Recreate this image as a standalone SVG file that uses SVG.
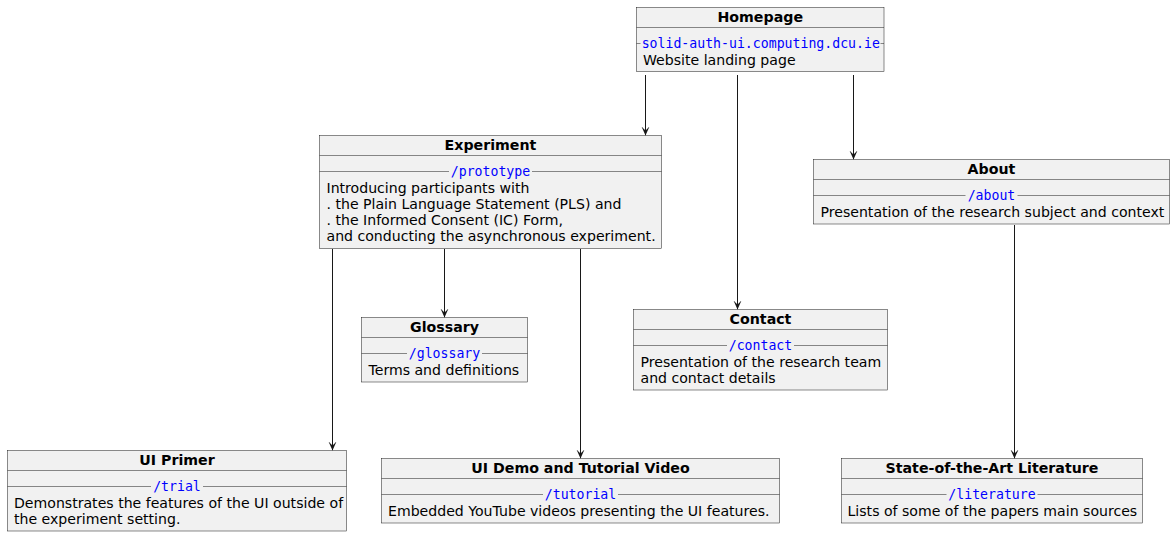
<svg xmlns="http://www.w3.org/2000/svg" width="1175" height="537" viewBox="0 0 1175 537">
<style>
.box{fill:#F1F1F1;stroke:#181818;stroke-width:0.5}
.sep{stroke:#181818;stroke-width:0.5;fill:none}
.title{font-family:"DejaVu Sans",sans-serif;font-weight:bold;font-size:14.2px;text-anchor:middle;fill:#000}
.url{font-family:"DejaVu Sans Mono",monospace;font-size:13.2px;text-anchor:middle;fill:#0000FF}
.body{font-family:"DejaVu Sans",sans-serif;font-size:14.1px;fill:#000}
.edge{stroke:#181818;stroke-width:1;fill:none;marker-end:url(#arr)}
</style>
<defs>
<marker id="arr" markerUnits="userSpaceOnUse" markerWidth="10" markerHeight="11" viewBox="0 0 10 10" refX="9" refY="5" orient="auto">
<path d="M0,1 L9,5 L0,9 L4,5 Z" fill="#181818"/>
</marker>
</defs>
<rect width="1175" height="537" fill="#FFFFFF"/>

<g id="connectors">
<line class="edge" x1="645.5" y1="75" x2="645.5" y2="135.5"/>
<line class="edge" x1="737.5" y1="75" x2="737.5" y2="309.5"/>
<line class="edge" x1="853.5" y1="75" x2="853.5" y2="159.5"/>
<line class="edge" x1="332.5" y1="249" x2="332.5" y2="450.5"/>
<line class="edge" x1="444.5" y1="249" x2="444.5" y2="317.5"/>
<line class="edge" x1="580.5" y1="249" x2="580.5" y2="458.5"/>
<line class="edge" x1="1014.5" y1="225" x2="1014.5" y2="458.5"/>
</g>

<g id="homepage">
<rect class="box" x="636.5" y="7.5" width="247.5" height="64"/>
<text class="title" x="760.25" y="21.5">Homepage</text>
<line class="sep" x1="636.5" y1="27.5" x2="884" y2="27.5"/>
<line class="sep" x1="636.5" y1="43.5" x2="640.5" y2="43.5"/>
<line class="sep" x1="880.5" y1="43.5" x2="884" y2="43.5"/>
<text class="url" x="760.75" y="47.5">solid-auth-ui.computing.dcu.ie</text>
<text class="body" x="643" y="64.5">Website landing page</text>
</g>

<g id="experiment">
<rect class="box" x="319.5" y="135.5" width="342" height="113"/>
<text class="title" x="490.5" y="150">Experiment</text>
<line class="sep" x1="319.5" y1="155.5" x2="661.5" y2="155.5"/>
<line class="sep" x1="319.5" y1="171.5" x2="449" y2="171.5"/>
<line class="sep" x1="532" y1="171.5" x2="661.5" y2="171.5"/>
<text class="url" x="490.5" y="176">/prototype</text>
<text class="body" x="326.5" y="192.5">Introducing participants with</text>
<text class="body" x="326.5" y="208.8">. the Plain Language Statement (PLS) and</text>
<text class="body" x="326.5" y="225.1">. the Informed Consent (IC) Form,</text>
<text class="body" x="326.5" y="241.4">and conducting the asynchronous experiment.</text>
</g>

<g id="about">
<rect class="box" x="813.5" y="159.5" width="356" height="64.5"/>
<text class="title" x="991.5" y="174">About</text>
<line class="sep" x1="813.5" y1="179.5" x2="1169.5" y2="179.5"/>
<line class="sep" x1="813.5" y1="195.5" x2="965.5" y2="195.5"/>
<line class="sep" x1="1017.5" y1="195.5" x2="1169.5" y2="195.5"/>
<text class="url" x="991.5" y="200">/about</text>
<text class="body" x="820.5" y="216.5">Presentation of the research subject and context</text>
</g>

<g id="glossary">
<rect class="box" x="361.5" y="317.5" width="166" height="64.5"/>
<text class="title" x="444.5" y="332">Glossary</text>
<line class="sep" x1="361.5" y1="337.5" x2="527.5" y2="337.5"/>
<line class="sep" x1="361.5" y1="353.5" x2="407" y2="353.5"/>
<line class="sep" x1="482" y1="353.5" x2="527.5" y2="353.5"/>
<text class="url" x="444.5" y="358">/glossary</text>
<text class="body" x="368.5" y="374.5">Terms and definitions</text>
</g>

<g id="contact">
<rect class="box" x="633.5" y="309.5" width="254" height="80.5"/>
<text class="title" x="760.5" y="324">Contact</text>
<line class="sep" x1="633.5" y1="329.5" x2="887.5" y2="329.5"/>
<line class="sep" x1="633.5" y1="345.5" x2="727" y2="345.5"/>
<line class="sep" x1="794" y1="345.5" x2="887.5" y2="345.5"/>
<text class="url" x="760.5" y="350">/contact</text>
<text class="body" x="640.5" y="366.5">Presentation of the research team</text>
<text class="body" x="640.5" y="382.8">and contact details</text>
</g>

<g id="ui-primer">
<rect class="box" x="7.5" y="450.5" width="339" height="80.5"/>
<text class="title" x="177" y="465">UI Primer</text>
<line class="sep" x1="7.5" y1="470.5" x2="346.5" y2="470.5"/>
<line class="sep" x1="7.5" y1="486.5" x2="151" y2="486.5"/>
<line class="sep" x1="203" y1="486.5" x2="346.5" y2="486.5"/>
<text class="url" x="177" y="491">/trial</text>
<text class="body" x="14" y="507.5">Demonstrates the features of the UI outside of</text>
<text class="body" x="14" y="523.8">the experiment setting.</text>
</g>

<g id="ui-demo">
<rect class="box" x="381.5" y="458.5" width="398" height="64.5"/>
<text class="title" x="580.5" y="473">UI Demo and Tutorial Video</text>
<line class="sep" x1="381.5" y1="478.5" x2="779.5" y2="478.5"/>
<line class="sep" x1="381.5" y1="494.5" x2="543" y2="494.5"/>
<line class="sep" x1="618" y1="494.5" x2="779.5" y2="494.5"/>
<text class="url" x="580.5" y="499">/tutorial</text>
<text class="body" x="388" y="515.5">Embedded YouTube videos presenting the UI features.</text>
</g>

<g id="literature">
<rect class="box" x="841.5" y="458.5" width="301" height="64.5"/>
<text class="title" x="992" y="473">State-of-the-Art Literature</text>
<line class="sep" x1="841.5" y1="478.5" x2="1142.5" y2="478.5"/>
<line class="sep" x1="841.5" y1="494.5" x2="946.5" y2="494.5"/>
<line class="sep" x1="1037.5" y1="494.5" x2="1142.5" y2="494.5"/>
<text class="url" x="992" y="499">/literature</text>
<text class="body" x="847.5" y="515.5">Lists of some of the papers main sources</text>
</g>
</svg>
